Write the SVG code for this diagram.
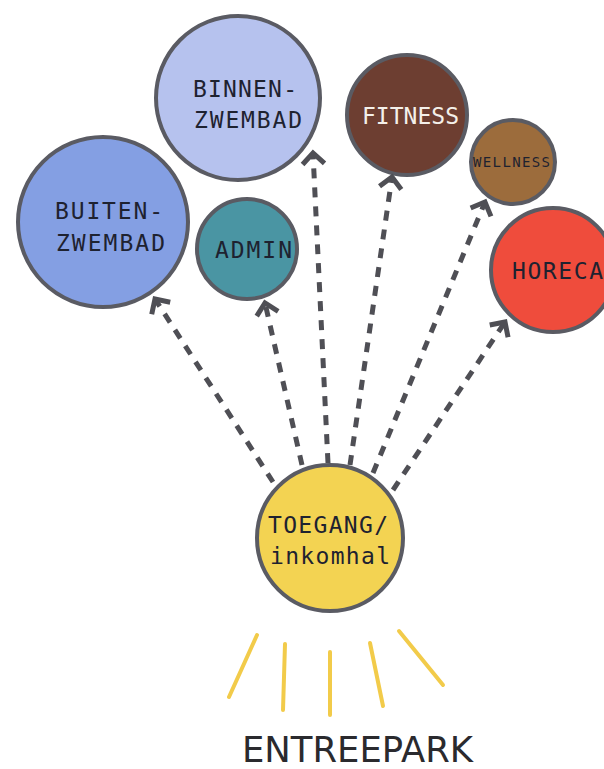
<svg xmlns="http://www.w3.org/2000/svg" width="604" height="769" viewBox="0 0 604 769">
<defs>
<style>
.node circle{stroke:#5a5b63;stroke-width:4}
.lbl{font-family:"DejaVu Sans Mono","Liberation Mono",monospace;font-size:23px;fill:#1e2230;text-anchor:start}
.conn line{stroke:#4f4f55;stroke-width:5;stroke-dasharray:10 9;fill:none}
.ray{stroke:#f2cb4a;stroke-width:4;stroke-linecap:round}
</style>
<marker id="chev" markerUnits="userSpaceOnUse" markerWidth="30" markerHeight="30" viewBox="-16 -15 20 30" refX="0" refY="0" orient="auto">
<path d="M-11 -11 L0 0 L-11 11" fill="none" stroke="#4f4f55" stroke-width="5"/>
</marker>
</defs>
<rect width="604" height="769" fill="#ffffff"/>

<g id="binnenzwembad" class="node">
<circle cx="238" cy="98" r="82" fill="#b6c2ee"/>
<text class="lbl" x="193" y="97" textLength="104" lengthAdjust="spacing">BINNEN-</text>
<text class="lbl" x="194" y="128" textLength="108" lengthAdjust="spacing">ZWEMBAD</text>
</g>
<g id="buitenzwembad" class="node">
<circle cx="103" cy="222" r="85" fill="#849fe3"/>
<text class="lbl" x="55" y="219" textLength="108" lengthAdjust="spacing">BUITEN-</text>
<text class="lbl" x="56" y="251" textLength="109" lengthAdjust="spacing">ZWEMBAD</text>
</g>
<g id="admin" class="node">
<circle cx="247" cy="249" r="50" fill="#4a95a3"/>
<text class="lbl" x="215" y="258" textLength="77" lengthAdjust="spacing">ADMIN</text>
</g>
<g id="fitness" class="node">
<circle cx="407" cy="115" r="60" fill="#6d3e31"/>
<text class="lbl" x="362" y="124" textLength="97" lengthAdjust="spacing" style="fill:#f4f0ea">FITNESS</text>
</g>
<g id="wellness" class="node">
<circle cx="513" cy="162" r="42" fill="#9c6c3c"/>
<text class="lbl" x="473" y="167" textLength="77" lengthAdjust="spacing" style="font-size:14px">WELLNESS</text>
</g>
<g id="horeca" class="node">
<circle cx="553" cy="270" r="62" fill="#ef4c3c"/>
<text class="lbl" x="512" y="279" textLength="91" lengthAdjust="spacing">HORECA</text>
</g>
<g id="toegang" class="node">
<circle cx="330" cy="538" r="73" fill="#f3d352"/>
<text class="lbl" x="268" y="533" textLength="120" lengthAdjust="spacing">TOEGANG/</text>
<text class="lbl" x="270" y="564" textLength="120" lengthAdjust="spacing">inkomhal</text>
</g>

<g id="connectors" class="conn">
<line x1="273" y1="482" x2="155" y2="299" marker-end="url(#chev)"/>
<line x1="302" y1="465" x2="265" y2="303" marker-end="url(#chev)"/>
<line x1="328" y1="463" x2="313" y2="153" marker-end="url(#chev)"/>
<line x1="350" y1="465" x2="392" y2="177" marker-end="url(#chev)"/>
<line x1="373" y1="473" x2="485" y2="202" marker-end="url(#chev)"/>
<line x1="393" y1="490" x2="505" y2="322" marker-end="url(#chev)"/>
</g>

<g id="entreepark">
<line class="ray" x1="257" y1="635" x2="229" y2="697"/>
<line class="ray" x1="285" y1="644" x2="283" y2="710"/>
<line class="ray" x1="330" y1="652" x2="330" y2="715"/>
<line class="ray" x1="370" y1="643" x2="383" y2="706"/>
<line class="ray" x1="399" y1="631" x2="443" y2="685"/>
<text x="242" y="762" textLength="231" lengthAdjust="spacingAndGlyphs" style="font-family:'DejaVu Sans','Liberation Sans',sans-serif;font-size:35px;fill:#2a2a2e">ENTREEPARK</text>
</g>
</svg>
